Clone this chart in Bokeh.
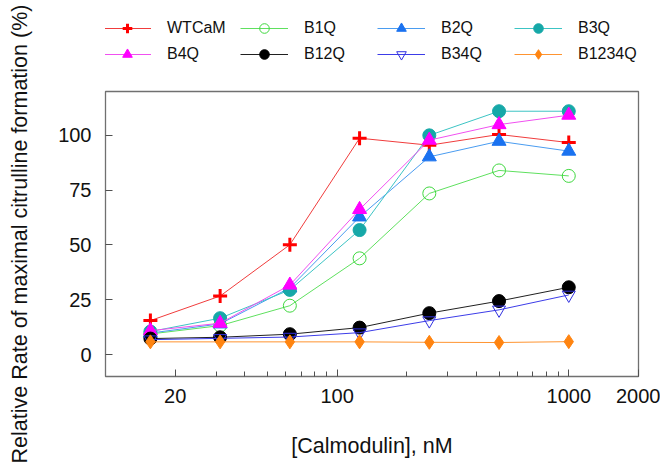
from bokeh.plotting import figure
from bokeh.layouts import row, column
from bokeh.models import FixedTicker, Legend, LegendItem, Range1d
from bokeh.embed import file_html
from bokeh.resources import INLINE

# ---- data ----
conc_nM = [15.625, 31.25, 62.5, 125, 250, 500, 1000]
series_names = ["WTCaM", "B1Q", "B2Q", "B3Q", "B4Q", "B12Q", "B34Q", "B1234Q"]
wtcam = [15.5, 26.7, 50.1, 98.7, 95.5, 100.4, 96.7]
b1q = [9.4, 13.2, 22.3, 43.9, 73.5, 84.0, 81.5]
b2q = [9.8, 14.0, 30.4, 62.8, 90.2, 97.3, 92.8]
b3q = [10.5, 16.6, 29.5, 56.8, 100.0, 111.0, 111.0]
b4q = [10.9, 14.3, 31.7, 66.2, 97.8, 104.9, 109.2]
b12q = [7.3, 7.9, 9.3, 12.3, 18.9, 24.4, 30.7]
b34q = [6.8, 7.4, 8.0, 10.0, 15.5, 20.4, 27.2]
b1234q = [5.8, 5.8, 5.8, 5.8, 5.6, 5.5, 5.9]
x_tick_values = [20, 100, 1000, 2000]
x_minor_values = [30, 40, 50, 60, 70, 80, 90, 200, 300, 400, 500, 600, 700, 800, 900]
y_tick_values = [0, 25, 50, 75, 100]
legend_order = ["WTCaM", "B4Q", "B1Q", "B12Q", "B2Q", "B34Q", "B3Q", "B1234Q"]  # column-major, 2 rows

values = [wtcam, b1q, b2q, b3q, b4q, b12q, b34q, b1234q]
styles = [
    dict(line="#f03c3c", marker="cross", mcolor="#ff0000", fill=True, size=14, mlw=3),
    dict(line="#5fe05f", marker="circle", mcolor="#3fd83f", fill=False, size=13, mlw=1),
    dict(line="#4a9cf0", marker="triangle", mcolor="#1a72f0", fill=True, size=14, mlw=1),
    dict(line="#3cc4c4", marker="circle", mcolor="#16a8a8", fill=True, size=13, mlw=1),
    dict(line="#f050f0", marker="triangle", mcolor="#ff00ff", fill=True, size=14, mlw=1),
    dict(line="#202020", marker="circle", mcolor="#000000", fill=True, size=13, mlw=1),
    dict(line="#3c3ce8", marker="inverted_triangle", mcolor="#3030e0", fill=False, size=13, mlw=1),
    dict(line="#ff9430", marker="diamond", mcolor="#ff8410", fill=True, size=14, mlw=1),
]

FONT = "Liberation Sans"
TXT = "#111111"


def add_series(fig, name, vals, st):
    r_line = fig.line(conc_nM, vals, line_color=st["line"], line_width=1)
    r_mark = fig.scatter(conc_nM, vals, marker=st["marker"], size=st["size"],
                         line_color=st["mcolor"], line_width=st["mlw"],
                         fill_color=st["mcolor"] if st["fill"] else "white",
                         fill_alpha=1.0 if st["fill"] else 0.0)
    return [r_line, r_mark]


def bare(fig):
    fig.xgrid.visible = False
    fig.ygrid.visible = False
    fig.outline_line_color = None


# ---- main plot ----
p = figure(width=620, height=375, x_axis_type="log",
           x_range=Range1d(10, 2000), y_range=Range1d(-10, 120),
           output_backend="svg", toolbar_location=None,
           min_border_left=65, min_border_right=22, min_border_top=2, min_border_bottom=88)
p.xgrid.visible = False
p.ygrid.visible = False
p.outline_line_color = "#707070"
p.outline_line_width = 1.3
for name, vals, st in zip(series_names, values, styles):
    add_series(p, name, vals, st)

xa = p.xaxis[0]
xa.ticker = FixedTicker(ticks=x_tick_values, minor_ticks=x_minor_values)
xa.major_label_overrides = {v: str(v) for v in x_tick_values}
xa.axis_label = "[Calmodulin], nM"
ya = p.yaxis[0]
ya.ticker = FixedTicker(ticks=y_tick_values)
for ax in (xa, ya):
    ax.axis_line_color = "#707070"
    ax.major_tick_line_color = "#505050"
    ax.minor_tick_line_color = "#505050"
    ax.major_tick_in = 7
    ax.major_tick_out = 0
    ax.minor_tick_in = 5
    ax.minor_tick_out = 0
    ax.major_label_text_font = FONT
    ax.major_label_text_font_size = "20px"
    ax.major_label_text_color = TXT
    ax.axis_label_text_font = FONT
    ax.axis_label_text_font_size = "21.5px"
    ax.axis_label_text_font_style = "normal"
    ax.axis_label_text_color = TXT
ya.minor_tick_line_color = None
ya.major_label_standoff = 14
xa.major_label_standoff = 12
xa.axis_label_standoff = 28

# ---- legend strip (same series, drawn outside its visible range) ----
lg = figure(width=620, height=89, x_range=Range1d(-2, -1), y_range=Range1d(-2, -1),
            output_backend="svg", toolbar_location=None,
            x_axis_location=None, y_axis_location=None, min_border=0)
bare(lg)
rend = {}
for name, vals, st in zip(series_names, values, styles):
    rend[name] = add_series(lg, name, vals, st)
items = [LegendItem(label=n, renderers=rend[n]) for n in legend_order]
legend = Legend(items=items, ncols=4, location=(-2, 23),
                glyph_width=48, glyph_height=24, label_height=24, label_width=71,
                label_standoff=16, spacing=2, padding=0, margin=0,
                border_line_color=None, background_fill_alpha=0,
                label_text_font=FONT, label_text_font_size="16px", label_text_color=TXT)
lg.add_layout(legend, "center")

# ---- y-axis title strip ----
yl = figure(width=40, height=464, x_range=Range1d(0, 1), y_range=Range1d(0, 1),
            output_backend="svg", toolbar_location=None, x_axis_location=None,
            min_border_left=39, min_border_right=0, min_border_top=91, min_border_bottom=88)
bare(yl)
yax = yl.yaxis[0]
yax.ticker = FixedTicker(ticks=[])
yax.axis_line_color = None
yax.major_tick_line_color = None
yax.minor_tick_line_color = None
yax.axis_label = "Relative Rate of maximal citrulline formation (%)"
yax.axis_label_text_font = FONT
yax.axis_label_text_font_size = "21.5px"
yax.axis_label_text_font_style = "normal"
yax.axis_label_text_color = TXT
yax.axis_label_standoff = 8

layout = row(yl, column(lg, p, spacing=0), spacing=0)
open("out.html", "w").write(file_html(layout, INLINE))
